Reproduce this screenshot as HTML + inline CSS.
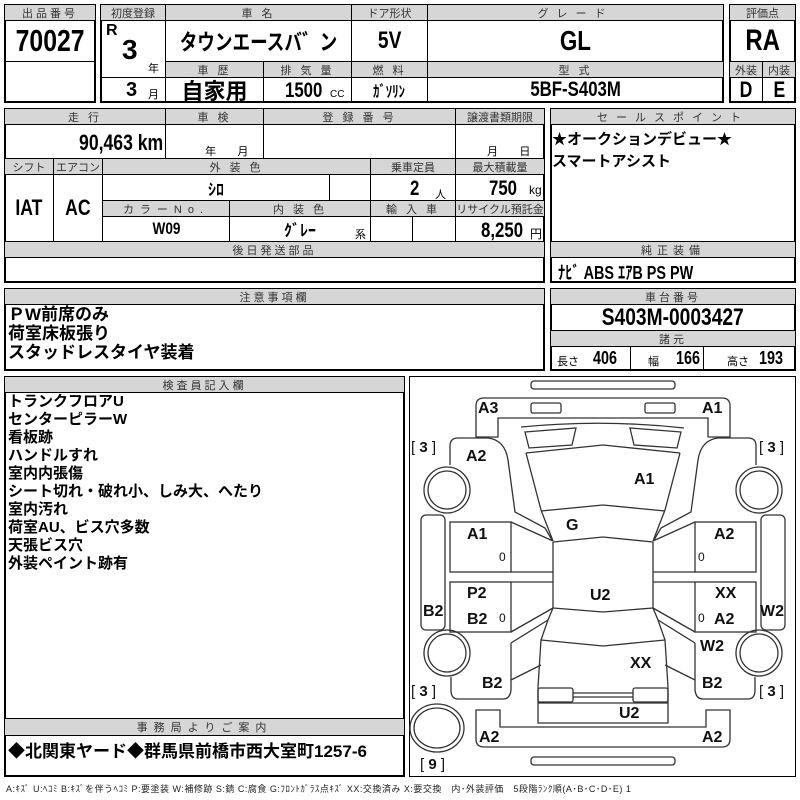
<!DOCTYPE html>
<html><head><meta charset="utf-8"><style>
body{margin:0;width:800px;height:800px;background:#fff;position:relative;overflow:hidden;font-family:"Liberation Sans","Noto Sans CJK JP",sans-serif;}
.b{position:absolute;box-sizing:border-box;border:1px solid #000;display:flex;align-items:center;justify-content:center;white-space:nowrap;}
.g{background:#d6d6d6;font-size:11px;color:#333;letter-spacing:3px;}
.v{font-weight:bold;font-family:"Liberation Sans Narrow","Liberation Sans","Noto Sans CJK JP",sans-serif;}
.t{position:absolute;white-space:nowrap;}
.n{display:inline-block;transform:scaleX(.8);}
.nl{display:inline-block;transform:scaleX(.8);transform-origin:left;}
.nr{display:inline-block;transform:scaleX(.8);transform-origin:right;}
.o{position:absolute;box-sizing:border-box;border:2px solid #000;}
</style></head><body>
<div class="o" style="left:4px;top:4px;width:92px;height:99px"></div>
<div class="b g" style="left:4px;top:4px;width:92px;height:17px">出品番号</div>
<div class="b v" style="left:4px;top:20px;width:92px;height:42px;font-size:31px"><span class="n">70027</span></div>
<div class="o" style="left:100px;top:4px;width:624px;height:99px"></div>
<div class="b g" style="left:100px;top:4px;width:66px;height:17px;letter-spacing:0">初度登録</div>
<div class="b g" style="left:165px;top:4px;width:187px;height:17px">車 名</div>
<div class="b g" style="left:351px;top:4px;width:77px;height:17px;letter-spacing:0">ドア形状</div>
<div class="b g" style="left:427px;top:4px;width:297px;height:17px;letter-spacing:8px">グレード</div>
<div class="b" style="left:100px;top:20px;width:66px;height:58px"></div>
<div class="t v" style="left:106px;top:22px;font-size:16px">R</div>
<div class="t v" style="left:122px;top:34px;font-size:28px">3</div>
<div class="t" style="left:148px;top:60px;font-size:11px">年</div>
<div class="b v" style="left:165px;top:20px;width:187px;height:42px;font-size:22px"><span class="n">タウンエースバ゛ン</span></div>
<div class="b v" style="left:351px;top:20px;width:77px;height:42px;font-size:24px"><span class="n">5V</span></div>
<div class="b v" style="left:427px;top:20px;width:297px;height:42px;font-size:28px"><span class="n">GL</span></div>
<div class="b g" style="left:165px;top:61px;width:99px;height:17px">車 歴</div>
<div class="b g" style="left:263px;top:61px;width:89px;height:17px">排 気 量</div>
<div class="b g" style="left:351px;top:61px;width:77px;height:17px">燃 料</div>
<div class="b g" style="left:427px;top:61px;width:297px;height:17px">型 式</div>
<div class="b" style="left:100px;top:77px;width:66px;height:26px"></div>
<div class="t v" style="left:126px;top:79px;font-size:20px">3</div>
<div class="t" style="left:148px;top:86px;font-size:11px">月</div>
<div class="b v" style="left:165px;top:77px;width:99px;height:26px;font-size:22px">自家用</div>
<div class="b" style="left:263px;top:77px;width:89px;height:26px"></div>
<div class="t v" style="left:285px;top:79px;font-size:21px"><span class="nl">1500</span></div>
<div class="t" style="left:330px;top:89px;font-size:10px">CC</div>
<div class="b v" style="left:351px;top:77px;width:77px;height:26px;font-size:16px"><span class="n">ｶﾞｿﾘﾝ</span></div>
<div class="b v" style="left:427px;top:77px;width:297px;height:26px;font-size:21px"><span class="n">5BF-S403M</span></div>
<div class="o" style="left:729px;top:4px;width:67px;height:99px"></div>
<div class="b g" style="left:729px;top:4px;width:67px;height:17px;letter-spacing:0">評価点</div>
<div class="b v" style="left:729px;top:20px;width:67px;height:42px;font-size:30px"><span class="n">RA</span></div>
<div class="b g" style="left:729px;top:61px;width:34px;height:17px;letter-spacing:0">外装</div>
<div class="b g" style="left:762px;top:61px;width:34px;height:17px;letter-spacing:0">内装</div>
<div class="b v" style="left:729px;top:77px;width:34px;height:26px;font-size:22px"><span class="n">D</span></div>
<div class="b v" style="left:762px;top:77px;width:34px;height:26px;font-size:22px"><span class="n">E</span></div>
<div class="o" style="left:4px;top:108px;width:541px;height:175px"></div>
<div class="b g" style="left:4px;top:108px;width:162px;height:17px">走 行</div>
<div class="b g" style="left:165px;top:108px;width:99px;height:17px">車 検</div>
<div class="b g" style="left:263px;top:108px;width:193px;height:17px">登 録 番 号</div>
<div class="b g" style="left:455px;top:108px;width:90px;height:17px;letter-spacing:0">譲渡書類期限</div>
<div class="b" style="left:4px;top:124px;width:162px;height:35px"></div>
<div class="t v" style="right:637px;top:130px;font-size:22px"><span class="nr">90,463 km</span></div>
<div class="b" style="left:165px;top:124px;width:99px;height:35px"></div>
<div class="t" style="left:205px;top:143px;font-size:11px">年&nbsp;&nbsp;&nbsp;&nbsp;&nbsp;&nbsp;&nbsp;月</div>
<div class="b" style="left:263px;top:124px;width:193px;height:35px"></div>
<div class="b" style="left:455px;top:124px;width:90px;height:35px"></div>
<div class="t" style="left:487px;top:143px;font-size:11px">月&nbsp;&nbsp;&nbsp;&nbsp;&nbsp;&nbsp;&nbsp;日</div>
<div class="b g" style="left:4px;top:158px;width:50px;height:17px;letter-spacing:0">シフト</div>
<div class="b g" style="left:53px;top:158px;width:50px;height:17px;letter-spacing:0">エアコン</div>
<div class="b g" style="left:102px;top:158px;width:269px;height:17px">外 装 色</div>
<div class="b g" style="left:370px;top:158px;width:86px;height:17px;letter-spacing:0">乗車定員</div>
<div class="b g" style="left:455px;top:158px;width:90px;height:17px;letter-spacing:0">最大積載量</div>
<div class="b v" style="left:4px;top:174px;width:50px;height:68px;font-size:22px"><span class="n">IAT</span></div>
<div class="b v" style="left:53px;top:174px;width:50px;height:68px;font-size:22px"><span class="n">AC</span></div>
<div class="b v" style="left:102px;top:174px;width:228px;height:27px;font-size:16px">ｼﾛ</div>
<div class="b" style="left:329px;top:174px;width:42px;height:27px"></div>
<div class="b" style="left:370px;top:174px;width:86px;height:27px"></div>
<div class="t v" style="left:410px;top:177px;font-size:21px"><span class="nl">2</span></div>
<div class="t" style="left:435px;top:186px;font-size:11px">人</div>
<div class="b" style="left:455px;top:174px;width:90px;height:27px"></div>
<div class="t v" style="left:489px;top:177px;font-size:21px"><span class="nl">750</span></div>
<div class="t" style="left:529px;top:183px;font-size:12px">kg</div>
<div class="b g" style="left:102px;top:200px;width:128px;height:17px;letter-spacing:6px">カラーNo.</div>
<div class="b g" style="left:229px;top:200px;width:142px;height:17px">内 装 色</div>
<div class="b g" style="left:370px;top:200px;width:86px;height:17px">輸 入 車</div>
<div class="b g" style="left:455px;top:200px;width:90px;height:17px;letter-spacing:0">リサイクル預託金</div>
<div class="b v" style="left:102px;top:216px;width:128px;height:26px;font-size:17px"><span class="n">W09</span></div>
<div class="b v" style="left:229px;top:216px;width:142px;height:26px;font-size:16px">ｸﾞﾚｰ</div>
<div class="t" style="left:355px;top:226px;font-size:11px">系</div>
<div class="b" style="left:370px;top:216px;width:43px;height:26px"></div>
<div class="b" style="left:412px;top:216px;width:44px;height:26px"></div>
<div class="b" style="left:455px;top:216px;width:90px;height:26px"></div>
<div class="t v" style="left:481px;top:219px;font-size:21px"><span class="nl">8,250</span></div>
<div class="t" style="left:530px;top:225px;font-size:12px">円</div>
<div class="b g" style="left:4px;top:241px;width:541px;height:17px">後日発送部品</div>
<div class="o" style="left:550px;top:108px;width:246px;height:175px"></div>
<div class="b g" style="left:550px;top:108px;width:246px;height:17px;letter-spacing:8px">セールスポイント</div>
<div class="t" style="left:552px;top:129px;font-size:15px;font-weight:bold;line-height:22px">★オークションデビュー★<br>スマートアシスト</div>
<div class="b g" style="left:550px;top:241px;width:246px;height:17px;letter-spacing:5px">純正装備</div>
<div class="t v" style="left:558px;top:259px;font-size:18px"><span class="nl">ﾅﾋﾞ ABS ｴｱB PS PW</span></div>
<div class="o" style="left:4px;top:288px;width:541px;height:83px"></div>
<div class="b g" style="left:4px;top:288px;width:541px;height:17px">注意事項欄</div>
<div class="t" style="left:8px;top:305px;font-size:17px;font-weight:bold;line-height:19px">ＰW前席のみ<br>荷室床板張り<br>スタッドレスタイヤ装着</div>
<div class="o" style="left:550px;top:288px;width:246px;height:83px"></div>
<div class="b g" style="left:550px;top:288px;width:246px;height:17px">車台番号</div>
<div class="b v" style="left:550px;top:304px;width:246px;height:27px;font-size:24px"><span class="n">S403M-0003427</span></div>
<div class="b g" style="left:550px;top:330px;width:246px;height:17px">諸元</div>
<div class="b" style="left:550px;top:346px;width:81px;height:25px"></div>
<div class="b" style="left:630px;top:346px;width:74px;height:25px"></div>
<div class="b" style="left:703px;top:346px;width:93px;height:25px"></div>
<div class="t" style="left:557px;top:353px;font-size:11px">長さ</div><div class="t v" style="left:593px;top:348px;font-size:18px"><span class="nl">406</span></div>
<div class="t" style="left:648px;top:353px;font-size:11px">幅</div><div class="t v" style="left:676px;top:348px;font-size:18px"><span class="nl">166</span></div>
<div class="t" style="left:727px;top:353px;font-size:11px">高さ</div><div class="t v" style="left:759px;top:348px;font-size:18px"><span class="nl">193</span></div>
<div class="o" style="left:4px;top:376px;width:401px;height:401px"></div>
<div class="b g" style="left:4px;top:376px;width:401px;height:17px">検査員記入欄</div>
<div class="t" style="left:8px;top:393px;font-size:15px;font-weight:bold;line-height:18px">トランクフロアU<br>センターピラーW<br>看板跡<br>ハンドルすれ<br>室内内張傷<br>シート切れ・破れ小、しみ大、へたり<br>室内汚れ<br>荷室AU、ビス穴多数<br>天張ビス穴<br>外装ペイント跡有</div>
<div class="b g" style="left:4px;top:718px;width:401px;height:18px;letter-spacing:6px">事務局よりご案内</div>
<div class="t" style="left:8px;top:737px;font-size:17px;font-weight:bold">◆北関東ヤード◆群馬県前橋市西大室町1257-6</div>
<div class="o" style="left:409px;top:376px;width:387px;height:401px;border-width:1.5px"></div>
<div class="t" style="left:6px;top:782px;font-size:9px;color:#222;letter-spacing:0.5px">A:ｷｽﾞ U:ﾍｺﾐ B:ｷｽﾞを伴うﾍｺﾐ P:要塗装 W:補修跡 S:錆 C:腐食 G:ﾌﾛﾝﾄｶﾞﾗｽ点ｷｽﾞ XX:交換済み X:要交換　内･外装評価　5段階ﾗﾝｸ順(A･B･C･D･E) 1</div>
<svg width="800" height="800" style="position:absolute;left:0;top:0" fill="none" stroke="#333" stroke-width="1.3">
<rect x="531" y="381" width="144" height="8" rx="3"/>
<rect x="531" y="757" width="144" height="8" rx="3"/>
<path d="M521,427 Q603,419 684,428"/>
<g id="h">
<path d="M603,398 L484,398 Q476,398 476,406 L476,437 L498,437 L498,418 L603,418"/>
<rect x="531" y="403" width="30" height="10" rx="2"/>
<path d="M525,432 L576,428 L572,445 L529,448 Z"/>
<path d="M526,453 Q603,445 603,445"/>
<path d="M526,453 L541,510 L553,541"/>
<path d="M541,511 Q603,505 603,505"/>
<path d="M553,542 Q603,537 603,537"/>
<path d="M553,542 L553,608"/>
<path d="M553,608 Q603,612 603,612"/>
<path d="M553,608 L548,620 L541,640 L538,687 L538,723 L603,723"/>
<path d="M541,640 Q603,646 603,646"/>
<rect x="538" y="688" width="35" height="14" rx="2"/>
<path d="M573,693 L603,693 M573,697 L603,697 M538,703 L603,703"/>
<path d="M450,465 L450,446 Q450,438 458,438 L488,438 Q505,440 508,460 L515,512 L545,528 L552,540"/>
<rect x="450" y="522" width="61" height="50"/>
<rect x="450" y="582" width="61" height="50"/>
<path d="M511,522 L553,541 M511,572 L553,572 M511,582 L553,582 M511,632 L553,608 M511,643 L548,620 M511,643 L511,680 M511,680 L541,665 M511,680 L511,690 Q510,699 503,699 L458,699 Q451,699 451,690 L451,677"/>
<rect x="421" y="515" width="24" height="115" rx="5"/>
<circle cx="447" cy="490" r="23"/><circle cx="447" cy="490" r="19"/>
<circle cx="447" cy="653" r="23"/><circle cx="447" cy="653" r="19"/>
<path d="M603,747 L484,747 Q476,747 476,739 L476,710 L500,710 L500,727 L603,727"/>
</g>
<use href="#h" transform="translate(1206,0) scale(-1,1)"/>
<ellipse cx="437" cy="728" rx="27" ry="24"/><ellipse cx="437" cy="728" rx="23" ry="20"/>
</svg>
<div style="position:absolute;left:0;top:0;font-weight:bold;font-size:16px;color:#111">
<div class="t" style="left:478px;top:400px">A3</div>
<div class="t" style="left:702px;top:400px">A1</div>
<div class="t" style="left:466px;top:448px">A2</div>
<div class="t" style="left:634px;top:471px">A1</div>
<div class="t" style="left:566px;top:517px">G</div>
<div class="t" style="left:467px;top:526px">A1</div>
<div class="t" style="left:714px;top:526px">A2</div>
<div class="t" style="left:467px;top:585px">P2</div>
<div class="t" style="left:467px;top:611px">B2</div>
<div class="t" style="left:590px;top:587px">U2</div>
<div class="t" style="left:715px;top:585px">XX</div>
<div class="t" style="left:714px;top:611px">A2</div>
<div class="t" style="left:423px;top:603px">B2</div>
<div class="t" style="left:760px;top:603px">W2</div>
<div class="t" style="left:700px;top:638px">W2</div>
<div class="t" style="left:630px;top:655px">XX</div>
<div class="t" style="left:482px;top:675px">B2</div>
<div class="t" style="left:702px;top:675px">B2</div>
<div class="t" style="left:619px;top:705px">U2</div>
<div class="t" style="left:479px;top:729px">A2</div>
<div class="t" style="left:702px;top:729px">A2</div>
<div class="t" style="left:499px;top:550px;font-size:12px;font-weight:normal">0</div>
<div class="t" style="left:698px;top:550px;font-size:12px;font-weight:normal">0</div>
<div class="t" style="left:499px;top:611px;font-size:12px;font-weight:normal">0</div>
<div class="t" style="left:698px;top:611px;font-size:12px;font-weight:normal">0</div>
<div class="t" style="left:411px;top:439px;font-weight:normal;font-size:15px">[ <b>3</b> ]</div>
<div class="t" style="left:759px;top:439px;font-weight:normal;font-size:15px">[ <b>3</b> ]</div>
<div class="t" style="left:411px;top:683px;font-weight:normal;font-size:15px">[ <b>3</b> ]</div>
<div class="t" style="left:759px;top:683px;font-weight:normal;font-size:15px">[ <b>3</b> ]</div>
<div class="t" style="left:420px;top:756px;font-weight:normal;font-size:15px">[ <b>9</b> ]</div>
</div>
</body></html>
